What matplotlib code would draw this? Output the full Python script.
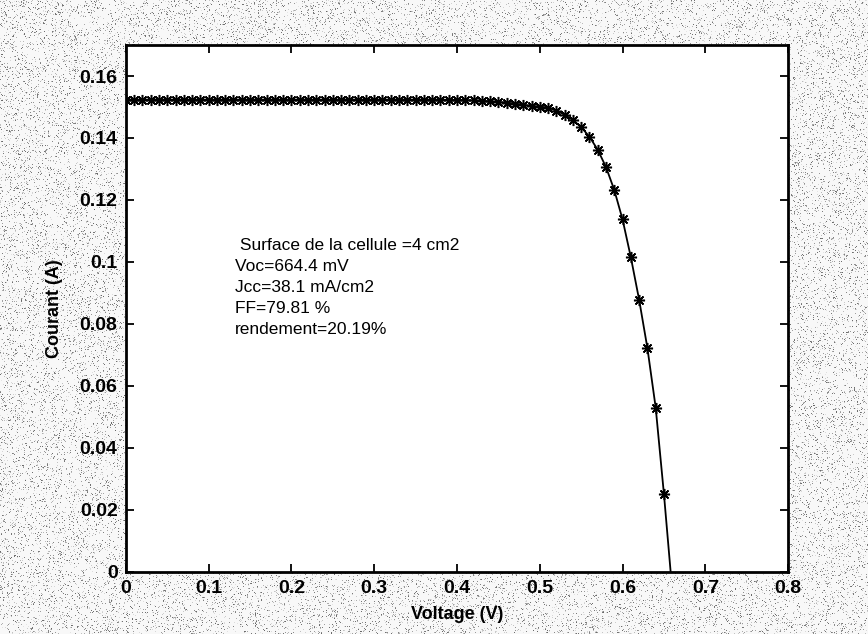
import numpy as np
import matplotlib
matplotlib.use("Agg")
import matplotlib.pyplot as plt

plt.rcParams['font.family'] = ['Liberation Sans', 'DejaVu Sans']

# I-V characteristic of the cell (voltage in V, current in A)
voltage = [0.00, 0.01, 0.02, 0.03, 0.04, 0.05, 0.06, 0.07, 0.08, 0.09,
           0.10, 0.11, 0.12, 0.13, 0.14, 0.15, 0.16, 0.17, 0.18, 0.19,
           0.20, 0.21, 0.22, 0.23, 0.24, 0.25, 0.26, 0.27, 0.28, 0.29,
           0.30, 0.31, 0.32, 0.33, 0.34, 0.35, 0.36, 0.37, 0.38, 0.39,
           0.40, 0.41, 0.42, 0.43, 0.44, 0.45, 0.46, 0.47, 0.48, 0.49,
           0.50, 0.51, 0.52, 0.53, 0.54, 0.55, 0.56, 0.57, 0.58, 0.59,
           0.60, 0.61, 0.62, 0.63, 0.64, 0.65, 0.66]
current = [0.1524, 0.1524, 0.1524, 0.1524, 0.1524, 0.1524, 0.1524, 0.1524, 0.1524, 0.1524,
           0.1524, 0.1524, 0.1524, 0.1524, 0.1524, 0.1524, 0.1524, 0.1524, 0.1524, 0.1524,
           0.1524, 0.1524, 0.1524, 0.1524, 0.1524, 0.1524, 0.1524, 0.1524, 0.1524, 0.1524,
           0.1524, 0.1524, 0.1524, 0.1524, 0.1524, 0.1524, 0.1524, 0.1524, 0.1524, 0.1523,
           0.1523, 0.1522, 0.1521, 0.1520, 0.1518, 0.1516, 0.1514, 0.1511, 0.1507, 0.1503,
           0.1501, 0.1498, 0.1488, 0.1475, 0.1458, 0.1435, 0.1404, 0.1362, 0.1306, 0.1232,
           0.1137, 0.1015, 0.0878, 0.0722, 0.0530, 0.0250, -0.0060]

x_ticks = [0, 0.1, 0.2, 0.3, 0.4, 0.5, 0.6, 0.7, 0.8]
x_tick_labels = ['0', '0.1', '0.2', '0.3', '0.4', '0.5', '0.6', '0.7', '0.8']
y_ticks = [0, 0.02, 0.04, 0.06, 0.08, 0.1, 0.12, 0.14, 0.16]
y_tick_labels = ['0', '0.02', '0.04', '0.06', '0.08', '0.1', '0.12', '0.14', '0.16']

info_lines = [' Surface de la cellule =4 cm2',
              'Voc=664.4 mV',
              'Jcc=38.1 mA/cm2',
              'FF=79.81 %',
              'rendement=20.19%']

fig = plt.figure(figsize=(8.68, 6.34), dpi=100)

# grainy paper background
rng = np.random.default_rng(7)
h, w = 634, 868
dots = rng.random((h, w)) < 0.12
shade = rng.uniform(0.4, 0.9, (h, w))
paper = np.where(dots, shade, 0.97)
fig.figimage(paper, xo=0, yo=0, cmap='gray', vmin=0, vmax=1, zorder=0)

ax = fig.add_axes([0.145, 0.098, 0.763, 0.831])
ax.set_facecolor('white')
ax.set_zorder(1)

ax.plot(voltage, current, color='black', linewidth=1.3,
        marker=(8, 2, 0), markersize=8, markeredgewidth=1.1,
        markeredgecolor='black')

ax.set_xlim(0, 0.8)
ax.set_ylim(0, 0.17)
ax.set_xticks(x_ticks)
ax.set_xticklabels(x_tick_labels)
ax.set_yticks(y_ticks)
ax.set_yticklabels(y_tick_labels)

ax.tick_params(direction='in', length=6, width=1.3, top=True, right=True,
               labelsize=14, pad=6)
for lab in ax.get_xticklabels() + ax.get_yticklabels():
    lab.set_fontweight('bold')
for sp in ax.spines.values():
    sp.set_linewidth(2)

ax.set_xlabel('Voltage (V)', fontsize=13, fontweight='bold', labelpad=6)
ax.set_ylabel('Courant (A)', fontsize=13, fontweight='bold', labelpad=12)

ax.text(0.132, 0.1078, '\n'.join(info_lines), fontsize=12.5,
        ha='left', va='top', linespacing=1.5, color='black')

fig.savefig('out.png', dpi=100)
